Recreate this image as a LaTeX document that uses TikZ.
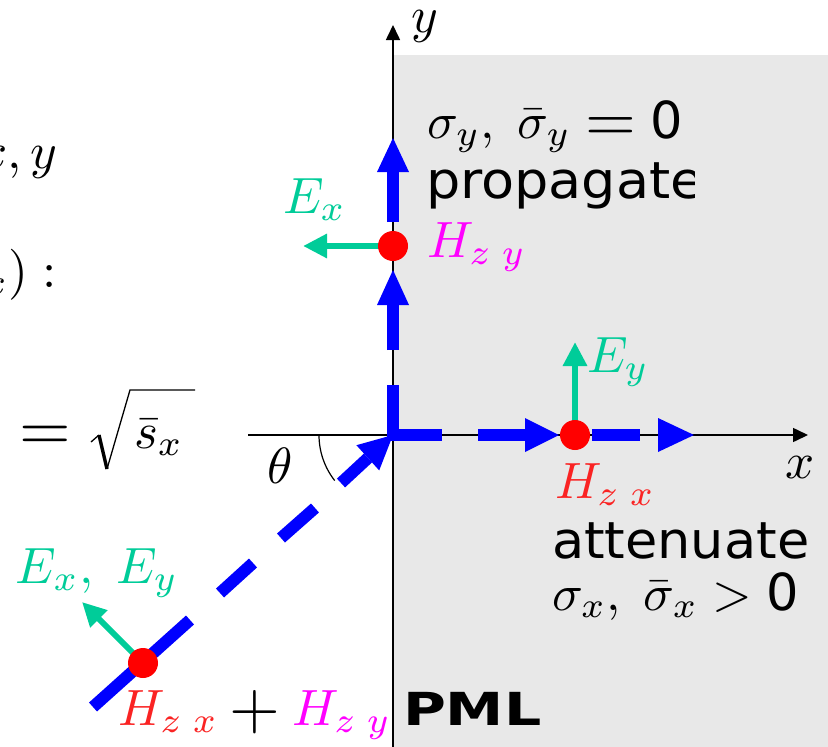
\documentclass[tikz,border=0pt]{standalone}
\usepackage{fontspec}
\setmainfont{DejaVu Sans}
\usetikzlibrary{arrows.meta}
\definecolor{egreen}{RGB}{0,204,153}
\definecolor{hmag}{RGB}{255,0,255}
\definecolor{hred}{RGB}{250,35,35}
\definecolor{pmlgray}{RGB}{232,232,232}
\definecolor{wblue}{RGB}{0,0,255}
\newcommand{\myeq}{\mathrel{\raisebox{-0.7pt}{\scalebox{1.28}{$=$}}}}
\newcommand{\myplus}{\mathbin{\raisebox{-0.7pt}{\scalebox{1.28}{$+$}}}}
\begin{document}
\begin{tikzpicture}[x=1pt,y=-1pt,
  lbl/.style={inner sep=0pt, outer sep=0pt, scale=5.1, anchor=base west},
  lble/.style={inner sep=0pt, outer sep=0pt, scale=5.1, anchor=base east},
  sanstext/.style={lbl, xscale=1.06},
  wave/.style={draw=wblue, line width=12pt, line cap=butt, line join=miter},
  whead/.style={fill=wblue},
  axisline/.style={draw=black, line width=1.6pt, -{Triangle[length=15pt,width=14pt]}},
  efield/.style={draw=egreen, line width=6pt, -{Triangle[length=24pt,width=23pt]}},
  hdot/.style={circle, fill=red, minimum size=30pt, inner sep=0pt}]
\clip (0,0) rectangle (828,747);
% PML region
\fill[pmlgray] (393,55) rectangle (828,747);
% axes
\coordinate (O) at (393,435);
\coordinate (ybot) at (393,747);
\coordinate (ytop) at (393,25);
\coordinate (xleft) at (248,435);
\coordinate (xright) at (808,435);
\draw[axisline] (ybot) -- (ytop);
\draw[axisline] (xleft) -- (xright);
% angle arc
\draw[line width=1.2pt] (319,435) arc[start angle=180, end angle=142, radius=74];
% field points
\coordinate (pzy) at (393,246);
\coordinate (pzx) at (575,435);
\coordinate (psum) at (143,663);
% incident wave
\draw[wave] (93,707) -- (190,620);
\draw[wave] (220,593) -- (253,563);
\draw[wave] (281,538) -- (315,508);
\draw[wave] (341,483) -- (368,458);
\fill[whead] (356.4,445.2) -- (379.2,470.4) -- (O) -- cycle;
% vertical wave
\draw[wave] (393,385) -- (O) -- (442,435);
\draw[wave] (393,350) -- (393,305);
\fill[whead] (377,305) -- (409,305) -- (393,270) -- cycle;
\draw[wave] (393,222) -- (393,172);
\fill[whead] (377,172) -- (409,172) -- (393,138) -- cycle;
% horizontal wave
\draw[wave] (478,435) -- (525,435);
\fill[whead] (525,418) -- (525,452) -- (559,435) -- cycle;
\draw[wave] (592,435) -- (640,435);
\fill[whead] (658,418) -- (658,452) -- (694,435) -- cycle;
% E fields
\coordinate (exend) at (303,246);
\coordinate (eyend) at (575,342);
\coordinate (exyend) at (82,602);
\draw[efield] (pzy) -- (exend);
\draw[efield] (pzx) -- (eyend);
\draw[efield] (psum) -- (exyend);
% H dots
\node[hdot] (hzy) at (pzy) {};
\node[hdot] (hzx) at (pzx) {};
\node[hdot] (hsum) at (psum) {};
% axis labels
\node[lbl] (xlab) at (785,478) {$x$};
\node[lbl] (ylab) at (411,32) {$y$};
\node[lbl] (theta) at (267,483) {$\theta$};
% field labels
\node[lbl, text=egreen] (exlab) at (283,213) {$E_x$};
\node[lbl, text=egreen] (eylab) at (587,372) {$E_y$};
\node[lbl, text=egreen] (exylab) at (16,583) {$E_x,\;E_y$};
\node[lbl, text=hmag] (hzylab) at (427,257) {$H_{z\;y}$};
\node[lbl, text=hred] (hzxlab) at (555,498) {$H_{z\;x}$};
\node[lbl] (hsumlab) at (118,725) {${\color{hred}H_{z\;x}}\myplus{\color{hmag}H_{z\;y}}$};
% region texts
\node[lbl] (sigy) at (427,138) {$\sigma_y,\;\bar\sigma_y \myeq \mbox{0}$};
\begin{scope}
\clip (393,150) rectangle (694,215);
\node[sanstext] (prop) at (426,198) {propagate};
\end{scope}
\begin{scope}
\clip (554,510) rectangle (828,575);
\node[lbl, xscale=1.03] (att) at (552,558) {attenuate};
\end{scope}
\node[lbl] (sigx) at (552,610) {$\sigma_x,\;\bar\sigma_x > \mbox{0}$};
\node[inner sep=0pt, outer sep=0pt, anchor=base west, xscale=5.85, yscale=4.55] (pml) at (403,725) {\bfseries PML};
% clipped text on the left
\node[lble] (xy) at (57,168) {$x, y$};
\node[lble] (sx) at (57,287) {$(s_x):$};
\node[lbl, scale=1.3] (eqsign) at (19,450.6) {$=$};
\draw[line width=1.3pt, line join=miter] (91,442) -- (99,435);
\draw[line width=3.4pt] (99,435) -- (107,469);
\draw[line width=1.3pt, line join=miter] (107,469) -- (130,390) -- (195,390);
\node[lbl] (sbar) at (134,448) {$\bar s_x$};
\end{tikzpicture}
\end{document}
